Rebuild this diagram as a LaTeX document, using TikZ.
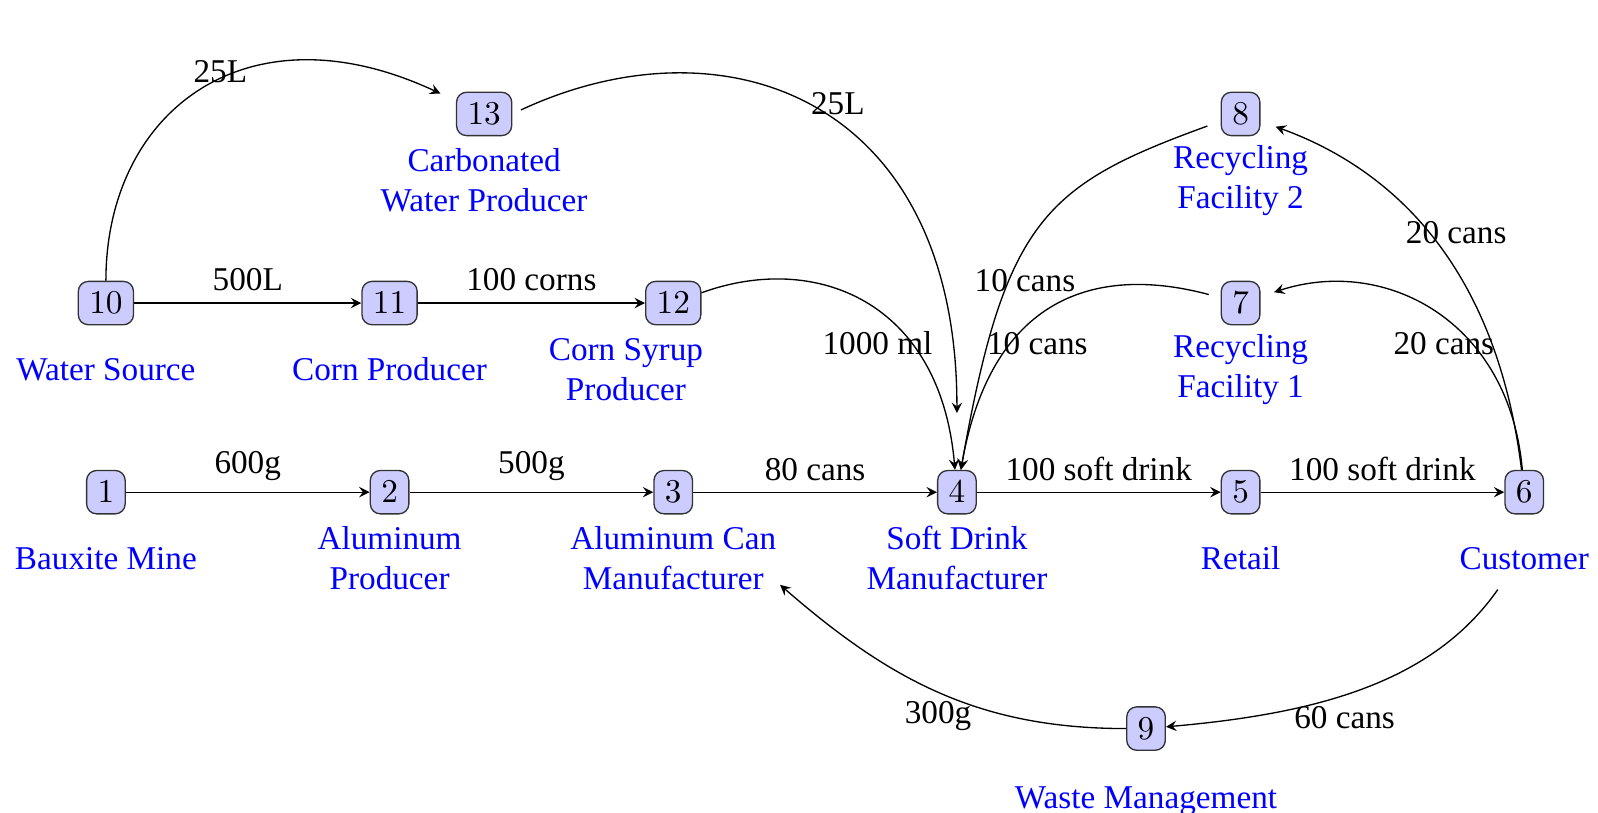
\documentclass[tikz,border=0pt]{standalone}
\usepackage[no-math]{fontspec}
\setmainfont{Liberation Serif}
\usetikzlibrary{arrows}

\tikzset{
  vtx/.style={draw=black!80,fill=blue!20,rounded corners=3pt,inner sep=3.3pt},
  lab/.style={blue,align=center},
  qty/.style={black},
  >=stealth
}

\begin{document}
\begin{tikzpicture}
\useasboundingbox (-1.12,-3.39) rectangle (15.78,5.205);
% stations
\node[vtx] (n1) at (0,0) {$1$};
\node[vtx] (n2) at (3,0) {$2$};
\node[vtx] (n3) at (6,0) {$3$};
\node[vtx] (n4) at (9,0) {$4$};
\node[vtx] (n5) at (12,0) {$5$};
\node[vtx] (n6) at (15,0) {$6$};
\node[vtx] (n7) at (12,2) {$7$};
\node[vtx] (n8) at (12,4) {$8$};
\node[vtx] (n9) at (11,-2.5) {$9$};
\node[vtx] (n10) at (0,2) {$10$};
\node[vtx] (n11) at (3,2) {$11$};
\node[vtx] (n12) at (6,2) {$12$};
\node[vtx] (n13) at (4,4) {$13$};
% names
\node[lab] (l1) at (0,-0.7) {Bauxite Mine};
\node[lab] (l2) at (3,-0.7) {Aluminum\\Producer};
\node[lab] (l3) at (6,-0.7) {Aluminum Can\\Manufacturer};
\node[lab] (l4) at (9,-0.7) {Soft Drink\\Manufacturer};
\node[lab] (l5) at (12,-0.7) {Retail};
\node[lab] (l6) at (15,-0.7) {Customer};
\node[lab] (l7) at (12,1.3) {Recycling\\Facility 1};
\node[lab] (l8) at (12,3.3) {Recycling\\Facility 2};
\node[lab] (l9) at (11,-3.27) {Waste Management};
\node[lab] (l10) at (0,1.3) {Water Source};
\node[lab] (l11) at (3,1.3) {Corn Producer};
\node[lab] (l12) at (5.5,1.3) {Corn Syrup\\Producer};
\node[lab] (l13) at (4,3.3) {Carbonated\\Water Producer};
\coordinate (c6) at (14.72,-1.03);
\coordinate (c3) at (7.13,-0.98);
% straight flows
\draw[->] (n1) -- node[qty,above] (q12) {600g} (n2);
\draw[->] (n2) -- node[qty,above] (q23) {500g} (n3);
\draw[->] (n3) -- node[qty,above] (q34) {80 cans} (n4);
\draw[->] (n4) -- node[qty,above] (q45) {100 soft drink} (n5);
\draw[->] (n5) -- node[qty,above] (q56) {100 soft drink} (n6);
\draw[->] (n10) -- node[qty,above] (q1011) {500L} (n11);
\draw[->] (n11) -- node[qty,above] (q1112) {100 corns} (n12);
% curved flows
\draw[->,shorten >=1.8mm] (n10) to[out=90,in=155,out looseness=1.1,in looseness=1.5] (n13);
\draw[->,shorten <=1mm,shorten >=6mm] (n13.east) to[out=25,in=90,out looseness=1.05,in looseness=1.67] (n4);
\draw[->] (n12) to[out=20,in=95,in looseness=1.4] (n4);
\draw[->,shorten <=1.5mm] (n8) to[out=200,in=80,out looseness=1.1,in looseness=1.5] (n4);
\draw[->,shorten <=1.3mm] (n7) to[out=165,in=80,in looseness=1.5] (n4);
\draw[->,shorten >=1.7mm] (n6) to[out=97,in=-20,out looseness=1.2,in looseness=0.83] (n8);
\draw[->,shorten >=1.5mm] (n6) to[out=95,in=18,out looseness=1.22,in looseness=1.07] (n7);
\draw[->] (c6) to[out=-125,in=5,out looseness=0.8,in looseness=1.1] (n9);
\draw[->] (n9) to[out=180,in=-41] (c3);
% amounts on the curves
\node[qty] (q1013) at (1.21,4.45) {25L};
\node[qty] (q134) at (7.74,4.11) {25L};
\node[qty] (q124) at (8.16,1.58) {1000 ml};
\node[qty] (q84) at (9.72,2.24) {10 cans};
\node[qty] (q74) at (9.85,1.57) {10 cans};
\node[qty] (q68) at (14.28,2.74) {20 cans};
\node[qty] (q67) at (14.15,1.57) {20 cans};
\node[qty] (q69) at (13.1,-2.38) {60 cans};
\node[qty] (q93) at (8.8,-2.37) {300g};
\end{tikzpicture}
\end{document}
